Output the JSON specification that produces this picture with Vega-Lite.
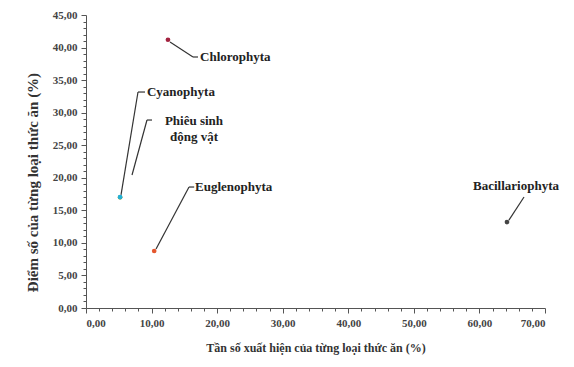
{
  "$schema": "https://vega.github.io/schema/vega-lite/v6.json",
  "width": 459,
  "height": 293,
  "autosize": {"type": "none"},
  "padding": {"left": 86, "top": 15, "right": 29, "bottom": 59},
  "background": "white",
  "config": {
    "view": {"stroke": null},
    "font": "Times New Roman, Liberation Serif, DejaVu Serif, serif",
    "axis": {"grid": false, "labelFont": "Times New Roman, Liberation Serif, DejaVu Serif, serif", "titleFont": "Times New Roman, Liberation Serif, DejaVu Serif, serif", "labelFontWeight": "bold", "titleFontWeight": "bold", "domainColor": "#555", "tickColor": "#555", "labelColor": "#444", "titleColor": "#333"}
  },
  "datasets": {
    "pts": [
      {"group": "Phiêu sinh động vật", "freq": 5.2, "score": 17.0},
      {"group": "Chlorophyta", "freq": 12.5, "score": 41.2},
      {"group": "Cyanophyta", "freq": 5.2, "score": 17.05},
      {"group": "Euglenophyta", "freq": 10.4, "score": 8.75},
      {"group": "Bacillariophyta", "freq": 64.2, "score": 13.2}
    ],
    "leaders": [
      {"x": 12.81, "y": 40.85, "x2": 16.32, "y2": 38.55},
      {"x": 16.32, "y": 38.55, "x2": 17.08, "y2": 38.55},
      {"x": 5.34, "y": 17.36, "x2": 7.93, "y2": 33.17},
      {"x": 7.93, "y": 33.17, "x2": 9.0, "y2": 33.17},
      {"x": 7.02, "y": 20.43, "x2": 9.3, "y2": 28.87},
      {"x": 9.3, "y": 28.87, "x2": 10.07, "y2": 28.87},
      {"x": 10.68, "y": 9.06, "x2": 15.71, "y2": 18.58},
      {"x": 15.71, "y": 18.58, "x2": 16.5, "y2": 18.58},
      {"x": 64.5, "y": 13.5, "x2": 66.8, "y2": 17.05}
    ],
    "labelsLeft": [
      {"label": "Chlorophyta", "lx": 17.39, "ly": 38.55},
      {"label": "Cyanophyta", "lx": 9.3, "ly": 33.17},
      {"label": "Euglenophyta", "lx": 16.62, "ly": 18.58}
    ],
    "labelsCenter": [
      {"label": "Phiêu sinh\nđộng vật", "lx": 16.47, "ly": 28.72},
      {"label": "Bacillariophyta", "lx": 65.58, "ly": 18.74}
    ]
  },
  "resolve": {"axis": {"x": "independent", "y": "independent"}},
  "layer": [
    {
      "data": {"name": "leaders"},
      "mark": {"type": "rule", "color": "#333", "strokeWidth": 1.2},
      "encoding": {
        "x": {"field": "x", "type": "quantitative", "scale": {"domain": [0, 70], "nice": false},
          "axis": {"orient": "bottom", "values": [2,4,6,8,12,14,16,18,22,24,26,28,32,34,36,38,42,44,46,48,52,54,56,58,62,64,66,68], "labels": false, "domain": false, "tickSize": 3, "title": null}},
        "y": {"field": "y", "type": "quantitative", "scale": {"domain": [0, 45], "nice": false},
          "axis": {"orient": "left", "values": [1,2,3,4,6,7,8,9,11,12,13,14,16,17,18,19,21,22,23,24,26,27,28,29,31,32,33,34,36,37,38,39,41,42,43,44], "labels": false, "domain": false, "tickSize": 3, "title": null}},
        "x2": {"field": "x2"},
        "y2": {"field": "y2"}
      }
    },
    {
      "data": {"name": "pts"},
      "mark": {"type": "point", "filled": true, "size": 22, "opacity": 1},
      "encoding": {
        "x": {"field": "freq", "type": "quantitative", "scale": {"domain": [0, 70], "nice": false},
          "axis": {"orient": "bottom", "values": [0,10,20,30,40,50,60,70], "labelExpr": "replace(format(datum.value, '.2f'), '.', ',')", "labelFontSize": 11, "tickSize": 5, "labelPadding": 4, "title": "Tần số xuất hiện của từng loại thức ăn (%)", "titleFontSize": 12, "titlePadding": 14}},
        "y": {"field": "score", "type": "quantitative", "scale": {"domain": [0, 45], "nice": false},
          "axis": {"orient": "left", "values": [0,5,10,15,20,25,30,35,40,45], "labelExpr": "replace(format(datum.value, '.2f'), '.', ',')", "labelFontSize": 11, "tickSize": 5, "labelPadding": 4, "title": "Điểm số của từng loại thức ăn (%)", "titleFontSize": 15, "titlePadding": 12, "titleY": 167}},
        "color": {"field": "group", "type": "nominal", "legend": null,
          "scale": {"domain": ["Phiêu sinh động vật", "Chlorophyta", "Cyanophyta", "Euglenophyta", "Bacillariophyta"], "range": ["#7a9a3a", "#a3223f", "#22b0d8", "#e4572e", "#444444"]}}
      }
    },
    {
      "data": {"name": "labelsLeft"},
      "mark": {"type": "text", "align": "left", "baseline": "middle", "fontWeight": "bold", "fontSize": 13, "color": "#222"},
      "encoding": {
        "x": {"field": "lx", "type": "quantitative", "axis": null},
        "y": {"field": "ly", "type": "quantitative", "axis": null},
        "text": {"field": "label"}
      }
    },
    {
      "data": {"name": "labelsCenter"},
      "mark": {"type": "text", "align": "center", "baseline": "middle", "lineBreak": "\n", "lineHeight": 16, "fontWeight": "bold", "fontSize": 13, "color": "#222"},
      "encoding": {
        "x": {"field": "lx", "type": "quantitative", "axis": null},
        "y": {"field": "ly", "type": "quantitative", "axis": null},
        "text": {"field": "label"}
      }
    }
  ]
}
